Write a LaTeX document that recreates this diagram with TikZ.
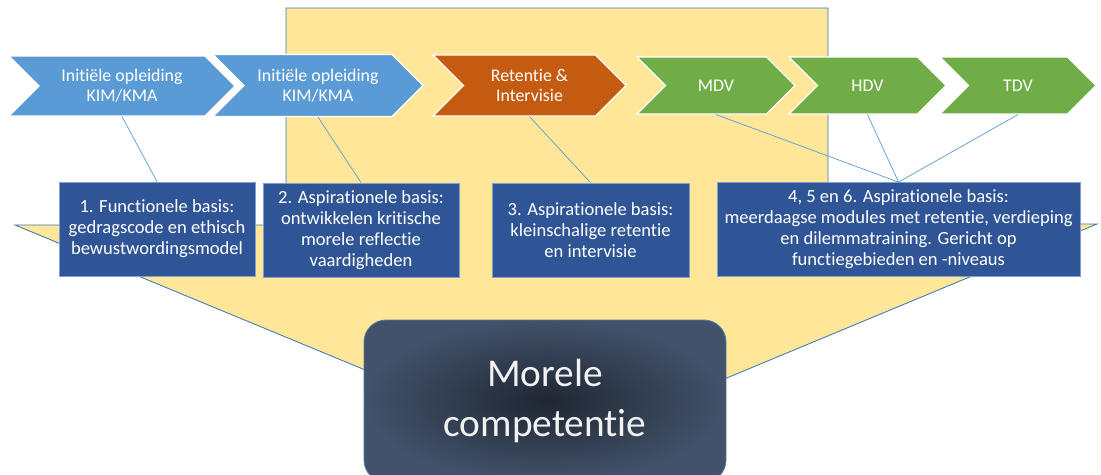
\documentclass[tikz,border=0pt]{standalone}
\usepackage{fontspec}
\setmainfont{Carlito}[Ligatures=NoCommon]
\usetikzlibrary{shapes.symbols,positioning}

\definecolor{funnelyellow}{HTML}{FFE699}
\definecolor{edgeblue}{HTML}{3C78B4}
\definecolor{arrowblue}{HTML}{5B9BD5}
\definecolor{rustorange}{HTML}{C55A11}
\definecolor{leafgreen}{HTML}{70AD47}
\definecolor{boxblue}{HTML}{2F5597}
\definecolor{boxedge}{HTML}{7F9FD3}
\definecolor{lineblue}{HTML}{5B9BD5}
\definecolor{coredark}{HTML}{1F2633}
\definecolor{corelight}{HTML}{42526A}

\tikzset{
  chev/.style={signal, signal from=west, signal to=east, signal pointer angle=90,
    draw=white, line width=0.8pt, text=white, align=center, inner sep=0pt,
    font=\fontsize{12.7}{14.4}\selectfont},
  basis/.style={draw=boxedge, line width=0.6pt, fill=boxblue, text=white, align=center,
    inner sep=0pt, minimum height=23.5mm, font=\fontsize{13.2}{15}\selectfont},
  link/.style={lineblue, line width=0.5pt}
}

\begin{document}
\begin{tikzpicture}[x=0.25mm, y=-0.25mm]
\useasboundingbox (0,0) rectangle (1101,474);

\filldraw[fill=funnelyellow, draw=edgeblue, line width=0.6pt]
  (15,225) -- (286,225) -- (286,8) -- (828,8) -- (828,225) -- (1097,224) -- (556,449) -- cycle;

\node[chev, fill=arrowblue, minimum width=56.5mm, minimum height=15mm] (init1) at (122,86) {Initiële opleiding\\KIM/KMA};
\node[chev, fill=arrowblue, minimum width=52.5mm, minimum height=15.5mm] (init2) at (318,85.5) {Initiële opleiding\\KIM/KMA};
\node[chev, fill=rustorange, minimum width=48.25mm, minimum height=15.25mm] (ret) at (529.5,85.5) {Retentie \&\\Intervisie};
\node[chev, fill=leafgreen, minimum width=39.5mm, minimum height=14.25mm] (mdv) at (716,85.5) {MDV};
\node[chev, fill=leafgreen, minimum width=39.25mm, minimum height=14.25mm] (hdv) at (867.5,85.5) {HDV};
\node[chev, fill=leafgreen, minimum width=39mm, minimum height=14.25mm] (tdv) at (1018,85.5) {TDV};

\node[basis, minimum width=49mm] (basis1) at (157,229) {1. Functionele basis:\\gedragscode en ethisch\\bewustwordingsmodel};
\node[basis, minimum width=49mm] (basis2) at (361,230) {2. Aspirationele basis:\\ontwikkelen kritische\\morele reflectie\\vaardigheden};
\node[basis, minimum width=49.25mm] (basis3) at (590.5,230) {3. Aspirationele basis:\\kleinschalige retentie\\en intervisie};
\node[basis, minimum width=90.75mm] (basis4) at (898.5,229.5) {4, 5 en 6. Aspirationele basis:\\meerdaagse modules met retentie, verdieping\\en dilemmatraining. Gericht op\\functiegebieden en -niveaus};

\draw[link] (init1.south) -- (basis1.north);
\draw[link] (init2.south) -- (basis2.north);
\draw[link] (ret.south) -- (basis3.north);
\draw[link] (mdv.south) -- (basis4.north);
\draw[link] (hdv.south) -- (basis4.north);
\draw[link] (tdv.south) -- (basis4.north);

\node[rounded corners=5.5mm, draw=edgeblue!60!gray, line width=0.6pt, inner color=coredark, outer color=corelight,
  minimum width=90.5mm, minimum height=40.5mm, text=white!90!gray, align=center,
  font=\fontsize{28}{35}\selectfont] (core) at (545,401) {Morele\\competentie};
\end{tikzpicture}
\end{document}
